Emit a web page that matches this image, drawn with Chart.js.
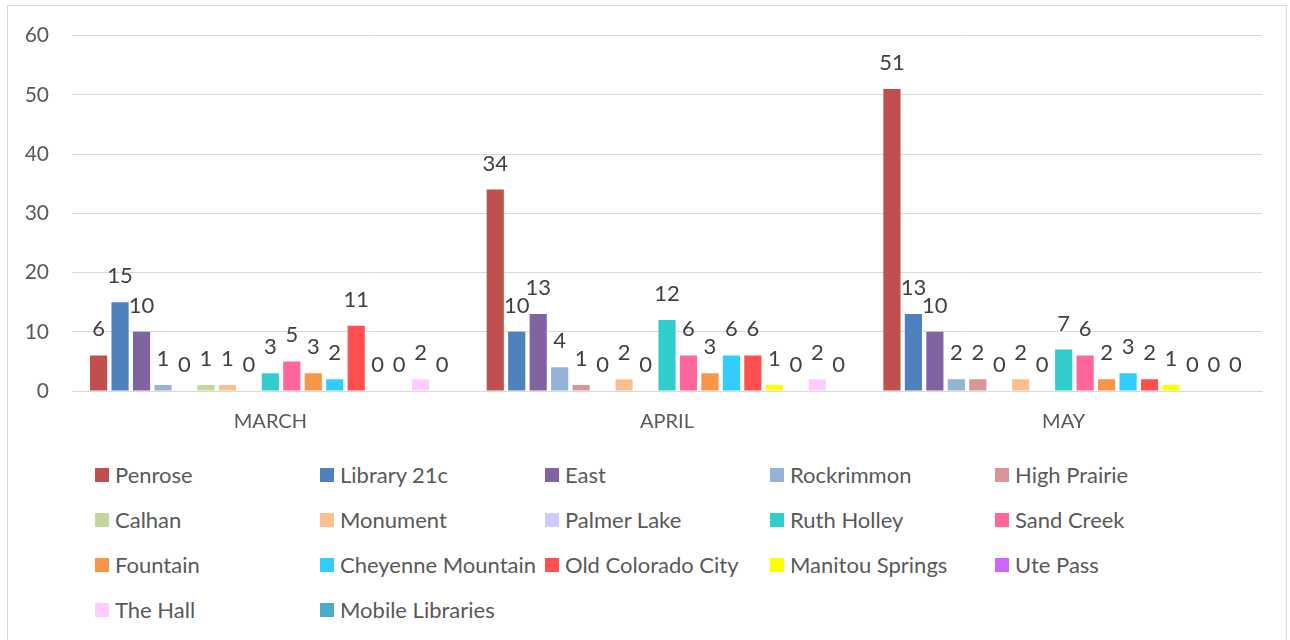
<!DOCTYPE html>
<html>
<head>
<meta charset="utf-8">
<script src="https://cdn.jsdelivr.net/npm/chart.js@4/dist/chart.umd.min.js"></script>
<style>
  html, body { margin: 0; padding: 0; background: #fff; }
  #wrap { position: relative; width: 1290px; height: 640px; overflow: hidden; font-family: Lato, "Open Sans", sans-serif; }
  #frame { position: absolute; left: 7px; top: 5px; width: 1280px; height: 640px; border: 1px solid #d9d9d9; box-sizing: border-box; }
  #cv { position: absolute; left: 0; top: 0; }
  #legend { position: absolute; left: 95px; top: 452px; display: grid; grid-template-columns: repeat(5, 225px); grid-auto-rows: 45px; }
  .item { display: flex; align-items: center; height: 45px; font-size: 22px; color: #595959; white-space: nowrap; }
  .sw { width: 14px; height: 14px; margin-right: 6px; flex: none; }
</style>
</head>
<body>
<div id="wrap">
  <div id="frame"></div>
  <canvas id="cv" width="1290" height="440"></canvas>
  <div id="legend"></div>
</div>
<script>
const categories = ["MARCH", "APRIL", "MAY"];
const seriesNames = ["Penrose", "Library 21c", "East", "Rockrimmon", "High Prairie", "Calhan", "Monument", "Palmer Lake", "Ruth Holley", "Sand Creek", "Fountain", "Cheyenne Mountain", "Old Colorado City", "Manitou Springs", "Ute Pass", "The Hall", "Mobile Libraries"];
const penrose = [6, 34, 51];
const library21c = [15, 10, 13];
const east = [10, 13, 10];
const rockrimmon = [1, 4, 2];
const highPrairie = [0, 1, 2];
const calhan = [1, 0, 0];
const monument = [1, 2, 2];
const palmerLake = [0, 0, 0];
const ruthHolley = [3, 12, 7];
const sandCreek = [5, 6, 6];
const fountain = [3, 3, 2];
const cheyenneMountain = [2, 6, 3];
const oldColoradoCity = [11, 6, 2];
const manitouSprings = [0, 1, 1];
const utePass = [0, 0, 0];
const theHall = [2, 2, 0];
const mobileLibraries = [0, 0, 0];
const yTicks = [0, 10, 20, 30, 40, 50, 60];

const seriesValues = [penrose, library21c, east, rockrimmon, highPrairie, calhan, monument, palmerLake, ruthHolley, sandCreek, fountain, cheyenneMountain, oldColoradoCity, manitouSprings, utePass, theHall, mobileLibraries];
const colors = ["#C0504D", "#4F81BD", "#8064A2", "#95B3D7", "#D99694", "#C3D69B", "#FAC090", "#CCCCFF", "#33CCCC", "#FF6699", "#F79646", "#33CCFF", "#FF5050", "#FFFF00", "#CC66FF", "#FFCCFF", "#4BACC6"];

const FONT = 'Lato, "Open Sans", sans-serif';

const valueLabels = {
  id: 'valueLabels',
  afterDatasetsDraw(chart) {
    const ctx = chart.ctx;
    ctx.save();
    ctx.font = '22px ' + FONT;
    ctx.fillStyle = '#404040';
    ctx.textAlign = 'center';
    ctx.textBaseline = 'alphabetic';
    chart.data.datasets.forEach((ds, i) => {
      const meta = chart.getDatasetMeta(i);
      meta.data.forEach((el, j) => {
        ctx.fillText(String(ds.data[j]), el.x, el.y - 19);
      });
    });
    ctx.restore();
  }
};

const chart = new Chart(document.getElementById('cv'), {
  type: 'bar',
  data: {
    labels: categories,
    datasets: seriesNames.map((n, i) => ({
      label: n,
      data: seriesValues[i],
      backgroundColor: colors[i],
      borderWidth: 0,
      barPercentage: 0.8,
      categoryPercentage: 0.92
    }))
  },
  options: {
    responsive: false,
    animation: false,
    layout: { padding: { left: 0, right: 28, top: 24, bottom: 0 } },
    plugins: { legend: { display: false }, tooltip: { enabled: false } },
    scales: {
      x: {
        grid: { display: false },
        border: { display: true, color: '#d9d9d9', width: 1 },
        ticks: { color: '#595959', font: { family: FONT, size: 20 }, padding: 11 },
        afterFit(s) { s.height = 49; }
      },
      y: {
        min: 0, max: 60,
        afterBuildTicks(s) { s.ticks = yTicks.map(v => ({ value: v })); },
        grid: { color: '#d9d9d9', lineWidth: 1, drawTicks: false },
        border: { display: false },
        ticks: { color: '#595959', font: { family: FONT, size: 21 }, padding: 23 },
        afterFit(s) { s.width = 72; }
      }
    }
  },
  plugins: [valueLabels]
});

const legend = document.getElementById('legend');
seriesNames.forEach((n, i) => {
  const d = document.createElement('div');
  d.className = 'item';
  d.innerHTML = '<span class="sw" style="background:' + colors[i] + '"></span><span></span>';
  d.lastChild.textContent = n;
  legend.appendChild(d);
});
</script>
</body>
</html>
